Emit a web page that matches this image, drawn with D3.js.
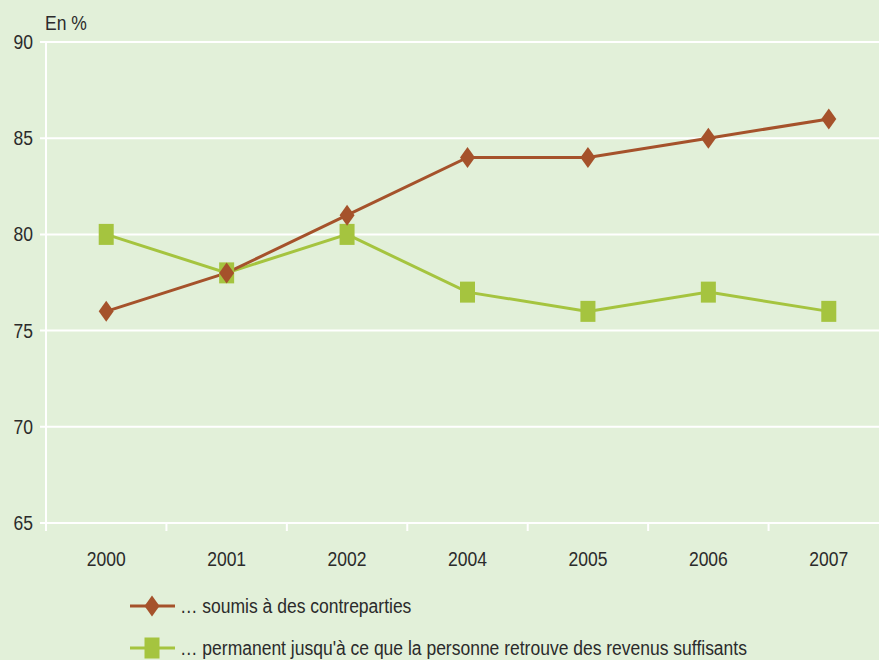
<!DOCTYPE html>
<html>
<head>
<meta charset="utf-8">
<script src="https://cdn.jsdelivr.net/npm/d3@7"></script>
<style>
  body { margin: 0; background: #e2f0d9; }
  svg { display: block; font-family: "Liberation Sans", Arial, sans-serif; font-weight: 400; }
</style>
</head>
<body>
<svg id="chart" width="879" height="660"></svg>
<script>
var years = ["2000", "2001", "2002", "2004", "2005", "2006", "2007"]
var soumis = [76, 78, 81, 84, 84, 85, 86]
var permanent = [80, 78, 80, 77, 76, 77, 76]
var yTicks = [65, 70, 75, 80, 85, 90]
var seriesNames = ["… soumis à des contreparties", "… permanent jusqu'à ce que la personne retrouve des revenus suffisants"]

var brown = "#a5522b"
var green = "#a5c43f"
var textColor = "#2b2b2b"
var narrow = 0.875  // squeeze Liberation Sans toward Arial Narrow

var svg = d3.select("#chart")
svg.append("rect").attr("width", 879).attr("height", 660).attr("fill", "#e2f0d9")

var x = d3.scaleBand().domain(years).range([46, 889])
var y = d3.scaleLinear().domain([65, 90]).range([523, 42])

function label(g, tx, ty, txt, anchor) {
    return g.append("text")
        .attr("transform", `translate(${tx},${ty}) scale(${narrow},1)`)
        .attr("text-anchor", anchor || "start")
        .attr("font-size", 20).attr("fill", textColor)
        .text(txt)
}

// grid
svg.append("g").selectAll("line").data(yTicks).join("line")
    .attr("x1", 40).attr("x2", 879)
    .attr("y1", d => y(d)).attr("y2", d => y(d))
    .attr("stroke", "#fff").attr("stroke-width", 2)

// y axis line
svg.append("line").attr("x1", 46).attr("x2", 46).attr("y1", y(90) - 1).attr("y2", y(65) + 8)
    .attr("stroke", "#fff").attr("stroke-width", 2)

// x ticks at band edges
var edges = years.map(d => x(d)).slice(1)
svg.append("g").selectAll("line").data(edges).join("line")
    .attr("x1", d => d).attr("x2", d => d)
    .attr("y1", y(65)).attr("y2", y(65) + 8)
    .attr("stroke", "#fff").attr("stroke-width", 2)

var ga = svg.append("g")
yTicks.forEach(d => label(ga, 33, y(d) + 7, d, "end"))
years.forEach(d => label(ga, x(d) + x.bandwidth() / 2, 566, d, "middle"))
label(ga, 45, 30, "En %")

var line = d3.line().x((d, i) => x(years[i]) + x.bandwidth() / 2).y(d => y(d))

function diamond(g, cx, cy) {
    g.append("path").attr("d", `M${cx},${cy - 10.5}L${cx + 7.5},${cy}L${cx},${cy + 10.5}L${cx - 7.5},${cy}Z`)
        .attr("fill", brown)
}
function square(g, cx, cy) {
    g.append("rect").attr("x", cx - 7.5).attr("y", cy - 10.5).attr("width", 15).attr("height", 21)
        .attr("fill", green)
}

svg.append("path").attr("d", line(permanent)).attr("fill", "none").attr("stroke", green).attr("stroke-width", 3)
svg.append("path").attr("d", line(soumis)).attr("fill", "none").attr("stroke", brown).attr("stroke-width", 3)

var gm = svg.append("g")
permanent.forEach((v, i) => square(gm, x(years[i]) + x.bandwidth() / 2, y(v)))
soumis.forEach((v, i) => diamond(gm, x(years[i]) + x.bandwidth() / 2, y(v)))

// legend
var legendY = [606, 648]
var colors = [brown, green]
seriesNames.forEach((name, i) => {
    var g = svg.append("g")
    g.append("line").attr("x1", 130).attr("x2", 175).attr("y1", legendY[i]).attr("y2", legendY[i])
        .attr("stroke", colors[i]).attr("stroke-width", 3)
    if (i == 0) diamond(g, 152, legendY[i])
    else square(g, 152, legendY[i])
    label(g, 180, legendY[i] + 7, name)
})
</script>
</body>
</html>
